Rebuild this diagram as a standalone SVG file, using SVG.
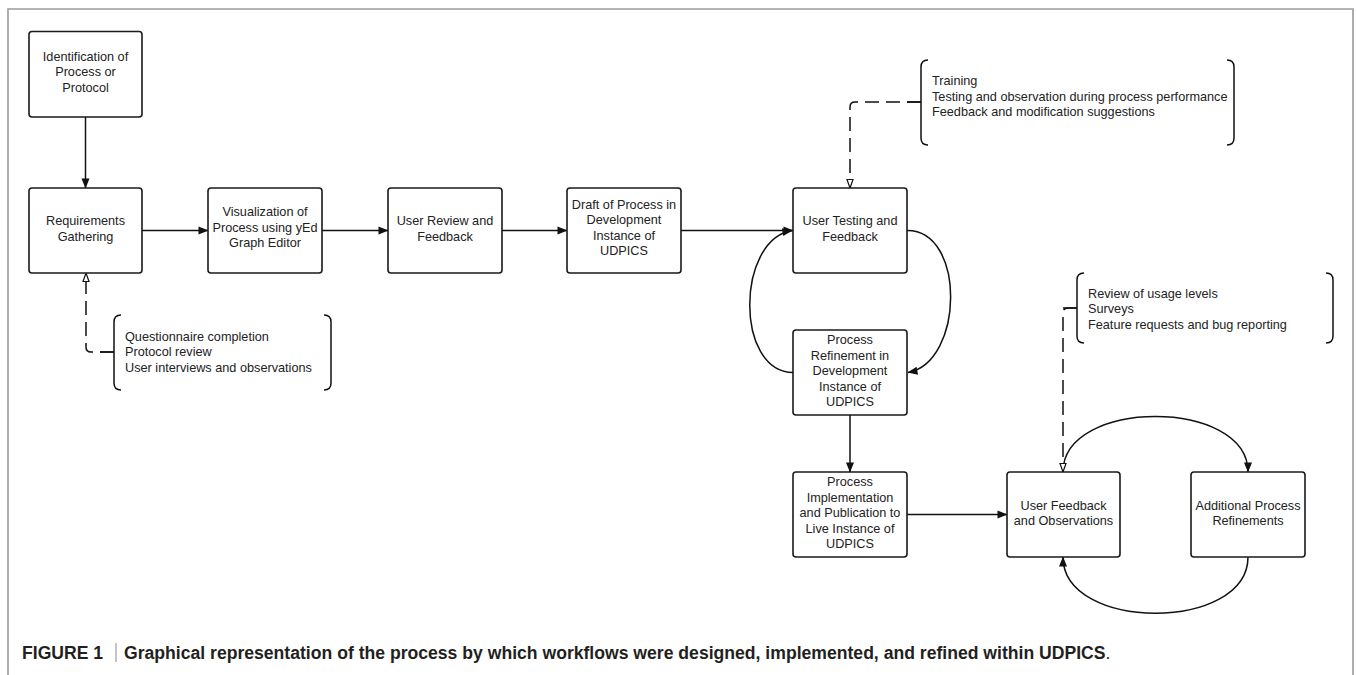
<svg xmlns="http://www.w3.org/2000/svg" width="1357" height="675" viewBox="0 0 1357 675">
<style>
.node rect{fill:#fff;stroke:#1a1a1a;stroke-width:1.6}
.node text,.note text{font-family:"Liberation Sans",Arial,sans-serif;font-size:12.7px;fill:#222}
.node text{text-anchor:middle}
.edge{fill:none;stroke:#111;stroke-width:1.5}
.dash{fill:none;stroke:#111;stroke-width:1.5;stroke-dasharray:14 7}
.brace{fill:none;stroke:#111;stroke-width:1.5}
.cap{font-family:"Liberation Sans",Arial,sans-serif;font-size:17.6px;font-weight:bold;fill:#231f20}
</style>
<defs>
<marker id="arr" markerUnits="userSpaceOnUse" markerWidth="10" markerHeight="8" refX="9.5" refY="4" orient="auto" overflow="visible"><path d="M0,0 L10,4 L0,8 z" fill="#111"/></marker>
<marker id="harr" markerUnits="userSpaceOnUse" markerWidth="10" markerHeight="8" refX="9" refY="3.5" orient="auto" overflow="visible"><path d="M0.5,0.5 L9,3.5 L0.5,6.5 z" fill="#fff" stroke="#111" stroke-width="1.2"/></marker>
</defs>
<rect width="1357" height="675" fill="#fff"/>
<path d="M8,675 L8,9 L1353,9 L1353,675" fill="none" stroke="#9a9a9a" stroke-width="1.6"/>

<g id="connectors">
<path class="edge" d="M85.5,117 L85.5,188" marker-end="url(#arr)"/>
<path class="edge" d="M142,230.5 L208,230.5" marker-end="url(#arr)"/>
<path class="edge" d="M322,230.5 L388,230.5" marker-end="url(#arr)"/>
<path class="edge" d="M502,230.5 L567,230.5" marker-end="url(#arr)"/>
<path class="edge" d="M681,230.5 L793,230.5" marker-end="url(#arr)"/>
<path class="edge" d="M907,230.5 C966,230 964,362 908,372.5" marker-end="url(#arr)"/>
<path class="edge" d="M793,372.5 C735,372 736,240 792,230.5" marker-end="url(#arr)"/>
<path class="edge" d="M850,415 L850,472" marker-end="url(#arr)"/>
<path class="edge" d="M907,514.5 L1007,514.5" marker-end="url(#arr)"/>
<path class="edge" d="M1063,472 C1063,398 1248,398 1248,472" marker-end="url(#arr)"/>
<path class="edge" d="M1248,557 C1248,632 1063,632 1063,557" marker-end="url(#arr)"/>
<path class="dash" d="M114,352 L91,352 Q86,352 86,347 L86,273" marker-end="url(#harr)"/>
<path class="dash" d="M921,102 L855,102 Q850,102 850,107 L850,188" marker-end="url(#harr)"/>
<path class="dash" d="M1077,308 L1068,308 Q1063,308 1063,313 L1063,472" marker-end="url(#harr)"/>
</g>

<g id="n1" class="node"><rect x="29" y="31.5" width="113" height="85.5" rx="3"/>
<text x="85.5" y="60.5">Identification of</text><text x="85.5" y="76">Process or</text><text x="85.5" y="91.5">Protocol</text></g>
<g id="n2" class="node"><rect x="29" y="188" width="113" height="85" rx="3"/>
<text x="85.5" y="225">Requirements</text><text x="85.5" y="240.5">Gathering</text></g>
<g id="n3" class="node"><rect x="208" y="188" width="114" height="85" rx="3"/>
<text x="265" y="216">Visualization of</text><text x="265" y="231.5">Process using yEd</text><text x="265" y="247">Graph Editor</text></g>
<g id="n4" class="node"><rect x="388" y="188" width="114" height="85" rx="3"/>
<text x="445" y="225">User Review and</text><text x="445" y="240.5">Feedback</text></g>
<g id="n5" class="node"><rect x="567" y="188" width="114" height="85" rx="3"/>
<text x="624" y="208.5">Draft of Process in</text><text x="624" y="224">Development</text><text x="624" y="239.5">Instance of</text><text x="624" y="255">UDPICS</text></g>
<g id="n6" class="node"><rect x="793" y="188" width="114" height="85" rx="3"/>
<text x="850" y="225">User Testing and</text><text x="850" y="240.5">Feedback</text></g>
<g id="n7" class="node"><rect x="793" y="330" width="114" height="85" rx="3"/>
<text x="850" y="344">Process</text><text x="850" y="359.5">Refinement in</text><text x="850" y="375">Development</text><text x="850" y="390.5">Instance of</text><text x="850" y="406">UDPICS</text></g>
<g id="n8" class="node"><rect x="793" y="472" width="114" height="85" rx="3"/>
<text x="850" y="486">Process</text><text x="850" y="501.5">Implementation</text><text x="850" y="517">and Publication to</text><text x="850" y="532.5">Live Instance of</text><text x="850" y="548">UDPICS</text></g>
<g id="n9" class="node"><rect x="1007" y="472" width="113" height="85" rx="3"/>
<text x="1063.5" y="509.5">User Feedback</text><text x="1063.5" y="525">and Observations</text></g>
<g id="n10" class="node"><rect x="1191" y="472" width="114" height="85" rx="3"/>
<text x="1248" y="509.5">Additional Process</text><text x="1248" y="525">Refinements</text></g>

<g id="note1" class="note">
<path class="brace" d="M121,315 Q114,315 114,322 L114,383 Q114,390 121,390 M100,352 L114,352"/>
<path class="brace" d="M324,315 Q331,315 331,322 L331,383 Q331,390 324,390"/>
<text x="125" y="340.5">Questionnaire completion</text><text x="125" y="356">Protocol review</text><text x="125" y="371.5">User interviews and observations</text>
</g>
<g id="note2" class="note">
<path class="brace" d="M928,60 Q921,60 921,67 L921,138 Q921,145 928,145 M907,102 L921,102"/>
<path class="brace" d="M1227,60 Q1234,60 1234,67 L1234,138 Q1234,145 1227,145"/>
<text x="932" y="85">Training</text><text x="932" y="100.5">Testing and observation during process performance</text><text x="932" y="116">Feedback and modification suggestions</text>
</g>
<g id="note3" class="note">
<path class="brace" d="M1084,273 Q1077,273 1077,280 L1077,336 Q1077,343 1084,343 M1063,308 L1077,308"/>
<path class="brace" d="M1326,273 Q1333,273 1333,280 L1333,336 Q1333,343 1326,343"/>
<text x="1088" y="297.5">Review of usage levels</text><text x="1088" y="313">Surveys</text><text x="1088" y="328.5">Feature requests and bug reporting</text>
</g>

<g id="caption">
<line x1="116" y1="643" x2="116" y2="662" stroke="#888" stroke-width="1"/>
<text class="cap" y="659"><tspan x="22">FIGURE 1</tspan><tspan x="124">Graphical representation of the process by which workflows were designed, implemented, and refined within UDPICS</tspan><tspan font-weight="normal">.</tspan></text>
</g>
</svg>
